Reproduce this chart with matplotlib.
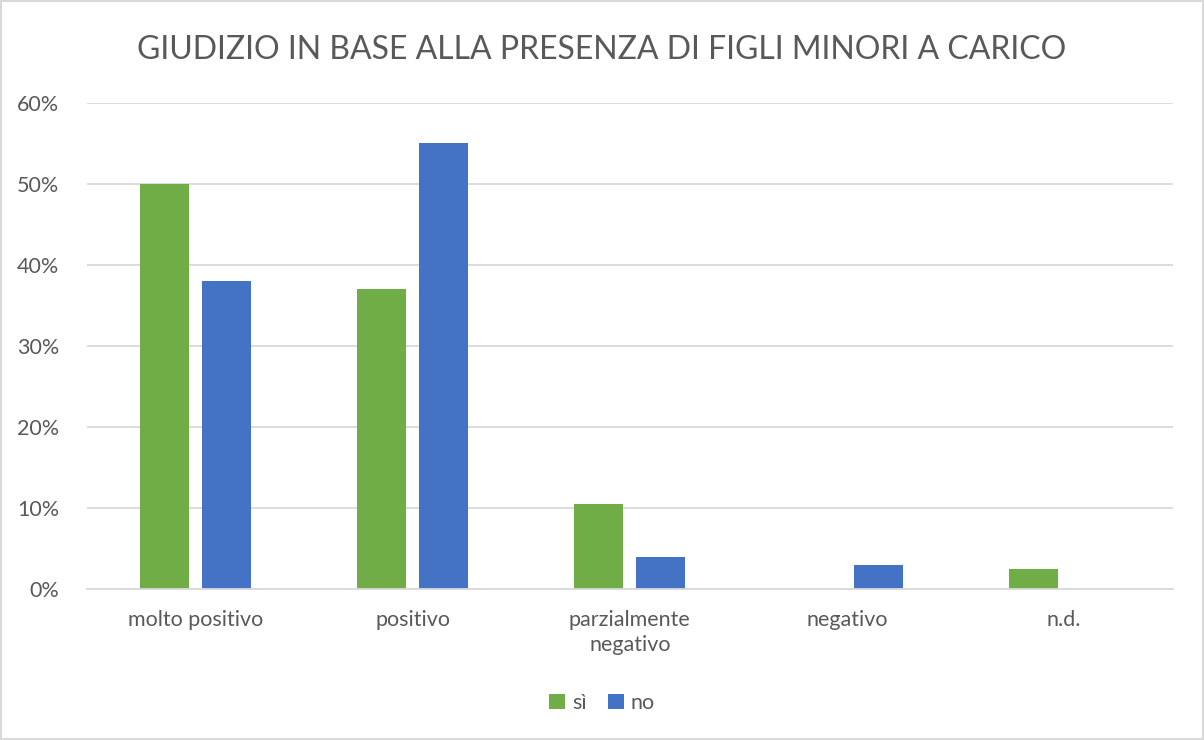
import numpy as np
import matplotlib.pyplot as plt
from matplotlib.patches import Rectangle
from matplotlib.ticker import PercentFormatter

categories = ["molto positivo", "positivo", "parzialmente\nnegativo", "negativo", "n.d."]
si_values = [0.50, 0.37, 0.105, 0.0, 0.025]
no_values = [0.38, 0.55, 0.04, 0.03, 0.0]
series_names = ["sì", "no"]

plt.rcParams['font.family'] = ['Lato', 'DejaVu Sans']

fig = plt.figure(figsize=(12.04, 7.4), dpi=100)
ax = fig.add_axes([0.0723, 0.204, 0.9017, 0.657])

x = np.arange(len(categories))
w = 0.226
ax.bar(x - 0.143, si_values, w, color="#70AD47", label=series_names[0])
ax.bar(x + 0.143, no_values, w, color="#4472C4", label=series_names[1])

ax.set_xlim(-0.5, len(categories) - 0.5)
ax.set_ylim(0, 0.6)
ax.set_yticks(np.arange(0, 0.61, 0.1))
ax.yaxis.set_major_formatter(PercentFormatter(1.0, decimals=0))
ax.set_xticks(x)
ax.set_xticklabels(categories, linespacing=1.35)
ax.tick_params(length=0, labelsize=15.5, colors="#595959")
ax.tick_params(axis="x", pad=15)
ax.tick_params(axis="y", pad=20)
ax.grid(axis="y", color="#d9d9d9", linewidth=1.3)
ax.set_axisbelow(True)
for s in ["top", "right", "left"]:
    ax.spines[s].set_visible(False)
ax.spines["bottom"].set_color("#d9d9d9")
ax.spines["bottom"].set_linewidth(1.3)

fig.text(0.5, 0.933, "GIUDIZIO IN BASE ALLA PRESENZA DI FIGLI MINORI A CARICO",
         ha="center", va="center", fontsize=23, color="#595959")

fig.legend(loc="center", bbox_to_anchor=(0.5, 0.05), ncol=2, frameon=False,
           fontsize=15.5, labelcolor="#595959", handlelength=0.75, handleheight=0.75,
           handletextpad=0.3, columnspacing=1.0)

fig.patches.append(Rectangle((0.001, 0.001), 0.998, 0.998, transform=fig.transFigure,
                             fill=False, edgecolor="#d9d9d9", linewidth=1.5))

fig.savefig("out.png", dpi=100)
